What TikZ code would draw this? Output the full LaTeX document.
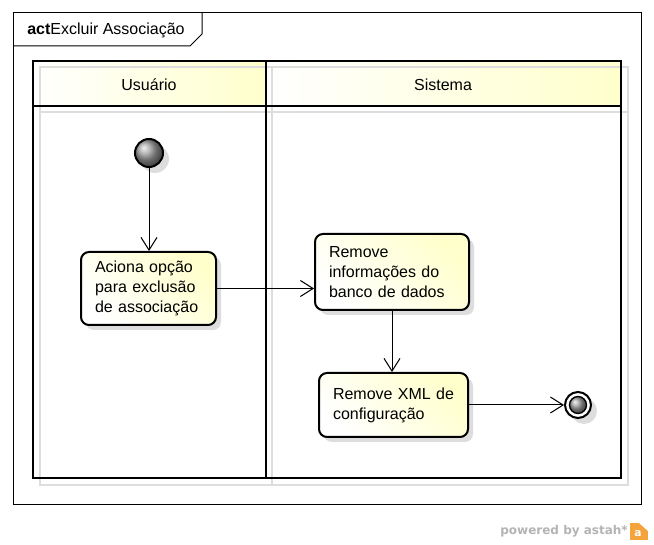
\documentclass[tikz,border=0pt]{standalone}
\usepackage{fontspec}
\setmainfont{Liberation Sans}
\newfontfamily\footfont{DejaVu Sans}
\usetikzlibrary{arrows.meta,shadings}
\definecolor{shadowgray}{HTML}{DDDDDD}
\definecolor{paleyellow}{HTML}{FFFFCC}
\definecolor{footgray}{HTML}{B4B4B4}
\definecolor{astahorange}{HTML}{F5A33C}
\tikzset{
  x=0.75pt, y=-0.75pt,
  txt/.style={font=\fontsize{12pt}{15pt}\selectfont},
  action/.style={draw=black, line width=1.5pt, rounded corners=6pt,
    left color=white, right color=paleyellow, shading angle=135,
    align=left, inner sep=0pt, txt},
  nshadow/.style={fill=shadowgray, draw=none, rounded corners=6pt},
  flow/.style={line width=0.75pt, -{Straight Barb[length=9.5pt,width=12pt,line width=0.75pt]}},
  flowshadow/.style={flow, draw=shadowgray},
  lane/.style={line width=1.9pt, draw=black},
  laneshadow/.style={line width=1.9pt, draw=shadowgray},
}
\begin{document}
\begin{tikzpicture}
\useasboundingbox (0,0) rectangle (654,545);
\fill[white] (0,0) rectangle (654,545);
% frame
\draw[line width=0.75pt] (13,13) rectangle (641,505);
\draw[line width=0.75pt] (13,46) -- (190,46) -- (202,34) -- (202,13);
\node[txt, anchor=west, inner sep=0pt] (title) at (27,30) {\textbf{act}Excluir Associação};
% lane headers fill
\shade[left color=white, right color=paleyellow] (33,61) rectangle (266,106);
\shade[left color=white, right color=paleyellow] (266,61) rectangle (621,106);
% lane shadow
\draw[laneshadow] (40,67) rectangle (628,485);
\draw[laneshadow] (40,112) -- (628,112);
\draw[laneshadow] (272,67) -- (272,485);
% lanes
\draw[lane] (33,61) rectangle (621,478);
\draw[lane] (33,106) -- (621,106);
\draw[lane] (266,61) -- (266,478);
\node[txt] (lane1) at (149,85) {Usuário};
\node[txt] (lane2) at (443,85) {Sistema};
% node shadows
\fill[nshadow] (86,257) rectangle (221,330);
\fill[nshadow] (320,239) rectangle (474,315);
\fill[nshadow] (324,378) rectangle (473,442);
\fill[shadowgray] (155,159) circle (14);
\fill[shadowgray] (584,411) circle (13);
% nodes
\node[circle, minimum size=28*0.75pt, inner sep=0pt, draw=black, line width=1.5pt, ball color=gray!75] (init) at (149,153) {};
\node[action, minimum width=135*0.75pt, minimum height=73*0.75pt, text width=107*0.75pt] (act1) at (148.5,288.5) {Aciona opção\\para exclusão\\de associação};
\node[action, minimum width=154*0.75pt, minimum height=76*0.75pt, text width=126*0.75pt] (act2) at (392,272) {Remove\\informações do\\banco de dados};
\node[action, minimum width=149*0.75pt, minimum height=64*0.75pt, text width=121*0.75pt] (act3) at (393.5,405) {Remove XML de\\configuração};
\node[circle, minimum size=26*0.75pt, inner sep=0pt, draw=black, line width=1.5pt, fill=white] (final) at (578,405) {};
\node[circle, minimum size=17*0.75pt, inner sep=0pt, draw=black, line width=1pt, ball color=gray!75] (finalin) at (578,405) {};
% connector shadows
\begin{scope}[shift={(6,6)}]
\draw[flowshadow] (init.south) -- (init.south |- act1.north);
\draw[flowshadow] (act1.east) -- (act1.east -| act2.west);
\draw[flowshadow] (act2.south) -- (act2.south |- act3.north);
\draw[flowshadow] (act3.east) -- (final.west);
\end{scope}
% connectors
\draw[flow] (init.south) -- (init.south |- act1.north);
\draw[flow] (act1.east) -- (act1.east -| act2.west);
\draw[flow] (act2.south) -- (act2.south |- act3.north);
\draw[flow] (act3.east) -- (final.west);
% footer
\node[font=\footfont\bfseries\fontsize{9pt}{10pt}\selectfont, text=footgray, anchor=east, inner sep=0pt] (foot) at (628,531) {powered by astah*};
\fill[astahorange] (630,523) rectangle (648,540);
\fill[white] (639,523) -- (648,523) -- (648,531) -- cycle;
\node[font=\footfont\bfseries\fontsize{8pt}{8pt}\selectfont, text=white, inner sep=0pt] (logo) at (638,534) {a};
\end{tikzpicture}
\end{document}
